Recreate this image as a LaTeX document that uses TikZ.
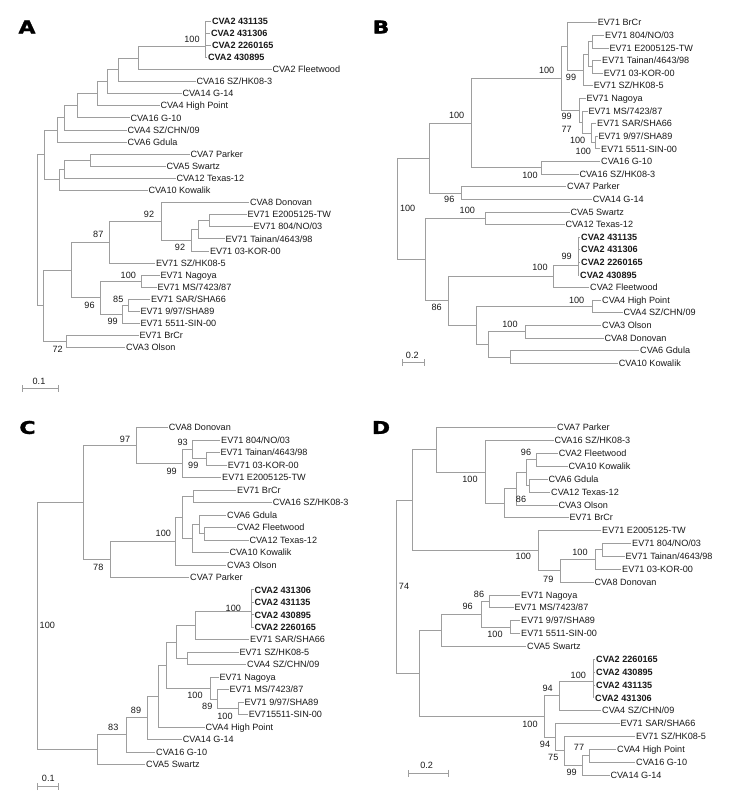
\documentclass[tikz,border=0pt]{standalone}
\usepackage{fontspec}
\setmainfont{Liberation Sans}
\newfontfamily\panelfont{DejaVu Sans}[BoldFeatures={FakeBold=1.6}]
\usetikzlibrary{arrows.meta}
\definecolor{linegray}{RGB}{158,158,158}
\definecolor{txt}{RGB}{25,25,25}
\tikzset{
  br/.style={draw=linegray, line width=0.75pt},
  leaf/.style={anchor=west, inner sep=1pt, outer sep=0pt, text height=6.5pt, text depth=0pt, font=\fontsize{9.1}{9.1}\selectfont, text=txt},
  bleaf/.style={leaf, font=\fontsize{9.1}{9.1}\selectfont\bfseries},
  bs/.style={inner sep=0pt, text height=6.5pt, text depth=0pt, font=\fontsize{9.1}{9.1}\selectfont, text=txt},
  plabel/.style={inner sep=0pt, font=\fontsize{17.5}{17.5}\selectfont\panelfont\bfseries, text=black},
  sbar/.style={draw=linegray, line width=0.75pt, {Bar[width=7pt]}-{Bar[width=7pt]}},
}
\begin{document}
\begin{tikzpicture}[x=1pt, y=-1pt]
\useasboundingbox[fill=white] (0,0) rectangle (750,805);

% ---------------- Panel letters ----------------
\node[plabel] (PA) at (27,27) {\scalebox{1.25}[1]{A}};
\node[plabel] (PB) at (381,27) {\scalebox{1.25}[1]{B}};
\node[plabel] (PC) at (27.5,427.5) {\scalebox{1.25}[1]{C}};
\node[plabel] (PD) at (381,427.5) {\scalebox{1.25}[1]{D}};

% ================= Panel A =================
\node[bleaf] (A0) at (211,21.0) {CVA2 431135};
\node[bleaf] (A1) at (210,33.1) {CVA2 431306};
\node[bleaf] (A2) at (211,45.2) {CVA2 2260165};
\node[bleaf] (A3) at (207,57.3) {CVA2 430895};
\node[leaf] (A4) at (271.5,69.4) {CVA2 Fleetwood};
\node[leaf] (A5) at (195.5,81.5) {CVA16 SZ/HK08-3};
\node[leaf] (A6) at (181.5,93.6) {CVA14 G-14};
\node[leaf] (A7) at (159.5,105.7) {CVA4 High Point};
\node[leaf] (A8) at (129.5,117.8) {CVA16 G-10};
\node[leaf] (A9) at (126.5,129.9) {CVA4 SZ/CHN/09};
\node[leaf] (A10) at (126.5,142.0) {CVA6 Gdula};
\node[leaf] (A11) at (189.5,154.1) {CVA7 Parker};
\node[leaf] (A12) at (165.5,166.2) {CVA5 Swartz};
\node[leaf] (A13) at (175.5,178.3) {CVA12 Texas-12};
\node[leaf] (A14) at (147.5,190.4) {CVA10 Kowalik};
\node[leaf] (A15) at (249,202.5) {CVA8 Donovan};
\node[leaf] (A16) at (246.5,214.6) {EV71 E2005125-TW};
\node[leaf] (A17) at (252.5,226.7) {EV71 804/NO/03};
\node[leaf] (A18) at (224.5,238.8) {EV71 Tainan/4643/98};
\node[leaf] (A19) at (209,250.9) {EV71 03-KOR-00};
\node[leaf] (A20) at (155,263.0) {EV71 SZ/HK08-5};
\node[leaf] (A21) at (159.5,275.1) {EV71 Nagoya};
\node[leaf] (A22) at (156.5,287.2) {EV71 MS/7423/87};
\node[leaf] (A23) at (150,299.3) {EV71 SAR/SHA66};
\node[leaf] (A24) at (139.5,311.4) {EV71 9/97/SHA89};
\node[leaf] (A25) at (139.5,323.5) {EV71 5511-SIN-00};
\node[leaf] (A26) at (138.5,335.6) {EV71 BrCr};
\node[leaf] (A27) at (125,347.7) {CVA3 Olson};

\coordinate (Ac) at (205.5,46.7);
\coordinate (Ap1) at (138,58.05);
\coordinate (Ap2) at (118,69.8);
\coordinate (Ap3) at (107,81.7);
\coordinate (Ap4) at (97,93.7);
\coordinate (Ap5) at (77,105.75);
\coordinate (Ap6) at (64,117.8);
\coordinate (Ap7) at (57.5,129.9);
\coordinate (Aq1) at (90,160.15);
\coordinate (Aq2) at (64,169.2);
\coordinate (Aq3) at (59,179.8);
\coordinate (Atop) at (44.3,154.85);
\coordinate (Ar1) at (209,220.65);
\coordinate (Ar2) at (198,229.7);
\coordinate (Ar3) at (191.7,240.3);
\coordinate (Ar4) at (161.7,221.4);
\coordinate (Ar5) at (109,242.2);
\coordinate (As1) at (141.7,281.15);
\coordinate (As2) at (128,305.35);
\coordinate (As3) at (122.7,314.4);
\coordinate (As4) at (100.7,297.8);
\coordinate (At) at (71.7,270);
\coordinate (Au) at (66.7,341.65);
\coordinate (Abot) at (43.3,305.8);
\coordinate (Aroot) at (37.7,230.3);

\path[br] (Ac) |- (A0.west) (Ac) |- (A1.west) (Ac) |- (A2.west) (Ac) |- (A3.west)
  (Ap1) |- (Ac) (Ap1) |- (A4.west)
  (Ap2) |- (Ap1) (Ap2) |- (A5.west)
  (Ap3) |- (Ap2) (Ap3) |- (A6.west)
  (Ap4) |- (Ap3) (Ap4) |- (A7.west)
  (Ap5) |- (Ap4) (Ap5) |- (A8.west)
  (Ap6) |- (Ap5) (Ap6) |- (A9.west)
  (Ap7) |- (Ap6) (Ap7) |- (A10.west)
  (Aq1) |- (A11.west) (Aq1) |- (A12.west)
  (Aq2) |- (Aq1) (Aq2) |- (A13.west)
  (Aq3) |- (Aq2) (Aq3) |- (A14.west)
  (Atop) |- (Ap7) (Atop) |- (Aq3)
  (Ar1) |- (A16.west) (Ar1) |- (A17.west)
  (Ar2) |- (Ar1) (Ar2) |- (A18.west)
  (Ar3) |- (Ar2) (Ar3) |- (A19.west)
  (Ar4) |- (A15.west) (Ar4) |- (Ar3)
  (Ar5) |- (Ar4) (Ar5) |- (A20.west)
  (As1) |- (A21.west) (As1) |- (A22.west)
  (As2) |- (A23.west) (As2) |- (A24.west)
  (As3) |- (As2) (As3) |- (A25.west)
  (As4) |- (As1) (As4) |- (As3)
  (At) |- (Ar5) (At) |- (As4)
  (Au) |- (A26.west) (Au) |- (A27.west)
  (Abot) |- (At) (Abot) |- (Au)
  (Aroot) |- (Atop) (Aroot) |- (Abot);

\node[bs] (Ab1) at (192,39) {100};
\node[bs] (Ab2) at (149,214.3) {92};
\node[bs] (Ab3) at (98.3,234.3) {87};
\node[bs] (Ab4) at (180,247.7) {92};
\node[bs] (Ab5) at (128.3,275) {100};
\node[bs] (Ab6) at (89.5,305.5) {96};
\node[bs] (Ab7) at (118.3,299.3) {85};
\node[bs] (Ab8) at (112.7,321.7) {99};
\node[bs] (Ab9) at (57.7,349.3) {72};

\coordinate (Asa) at (21.7,388.3);
\coordinate (Asb) at (59,388.3);
\draw[sbar] (Asa) -- (Asb);
\node[bs] (Asl) at (39,381.5) {0.1};

% ================= Panel B =================
\node[leaf] (B0) at (596.8,22.7) {EV71 BrCr};
\node[leaf] (B1) at (604.2,35.3) {EV71 804/NO/03};
\node[leaf] (B2) at (608.5,47.9) {EV71 E2005125-TW};
\node[leaf] (B3) at (601.2,60.5) {EV71 Tainan/4643/98};
\node[leaf] (B4) at (602.8,73.1) {EV71 03-KOR-00};
\node[leaf] (B5) at (592.8,85.75) {EV71 SZ/HK08-5};
\node[leaf] (B6) at (585.5,98.4) {EV71 Nagoya};
\node[leaf] (B7) at (587.5,111.0) {EV71 MS/7423/87};
\node[leaf] (B8) at (596.2,123.6) {EV71 SAR/SHA66};
\node[leaf] (B9) at (597.5,136.2) {EV71 9/97/SHA89};
\node[leaf] (B10) at (600.2,148.8) {EV71 5511-SIN-00};
\node[leaf] (B11) at (600.2,161.4) {CVA16 G-10};
\node[leaf] (B12) at (578.5,174.0) {CVA16 SZ/HK08-3};
\node[leaf] (B13) at (566.2,186.6) {CVA7 Parker};
\node[leaf] (B14) at (591.8,199.2) {CVA14 G-14};
\node[leaf] (B15) at (569.5,211.9) {CVA5 Swartz};
\node[leaf] (B16) at (564.5,224.5) {CVA12 Texas-12};
\node[bleaf] (B17) at (580.2,237.1) {CVA2 431135};
\node[bleaf] (B18) at (580.2,249.7) {CVA2 431306};
\node[bleaf] (B19) at (580.2,262.3) {CVA2 2260165};
\node[bleaf] (B20) at (579.2,274.9) {CVA2 430895};
\node[leaf] (B21) at (589.2,287.5) {CVA2 Fleetwood};
\node[leaf] (B22) at (601.2,300.1) {CVA4 High Point};
\node[leaf] (B23) at (622.5,312.7) {CVA4 SZ/CHN/09};
\node[leaf] (B24) at (601.2,325.3) {CVA3 Olson};
\node[leaf] (B25) at (603.5,338.0) {CVA8 Donovan};
\node[leaf] (B26) at (639.2,350.6) {CVA6 Gdula};
\node[leaf] (B27) at (617.8,363.2) {CVA10 Kowalik};

\coordinate (Bp1) at (592.5,41.6);
\coordinate (Bp2) at (592.5,66.8);
\coordinate (Bp3) at (588,54.2);
\coordinate (Bp4) at (583.3,70);
\coordinate (Bp5) at (567.7,46.35);
\coordinate (Bq1) at (595,142.5);
\coordinate (Bq2) at (591.7,133.05);
\coordinate (Bq3) at (582.3,122);
\coordinate (Bq4) at (579,110.2);
\coordinate (Bp6) at (561.7,78.3);
\coordinate (Br1) at (541.7,167.7);
\coordinate (Br2) at (471.7,123);
\coordinate (Br3) at (461,192.9);
\coordinate (Br4) at (429.3,157.95);
\coordinate (Bs1) at (485.7,218.2);
\coordinate (Bc) at (578.3,265);
\coordinate (Bs2) at (553.3,276.25);
\coordinate (Bs3) at (592.3,306.4);
\coordinate (Bs4) at (525.7,331.65);
\coordinate (Bs5) at (510.7,356.9);
\coordinate (Bs6) at (488.3,344.3);
\coordinate (Bs7) at (476.7,325.35);
\coordinate (Bs8) at (448.3,300.8);
\coordinate (Bs9) at (425,259.5);
\coordinate (Broot) at (397.3,208.7);

\path[br] (Bp1) |- (B1.west) (Bp1) |- (B2.west)
  (Bp2) |- (B3.west) (Bp2) |- (B4.west)
  (Bp3) |- (Bp1) (Bp3) |- (Bp2)
  (Bp4) |- (Bp3) (Bp4) |- (B5.west)
  (Bp5) |- (B0.west) (Bp5) |- (Bp4)
  (Bq1) |- (B9.west) (Bq1) |- (B10.west)
  (Bq2) |- (B8.west) (Bq2) |- (Bq1)
  (Bq3) |- (B7.west) (Bq3) |- (Bq2)
  (Bq4) |- (B6.west) (Bq4) |- (Bq3)
  (Bp6) |- (Bp5) (Bp6) |- (Bq4)
  (Br1) |- (B11.west) (Br1) |- (B12.west)
  (Br2) |- (Bp6) (Br2) |- (Br1)
  (Br3) |- (B13.west) (Br3) |- (B14.west)
  (Br4) |- (Br2) (Br4) |- (Br3)
  (Bs1) |- (B15.west) (Bs1) |- (B16.west)
  (Bc) |- (B17.west) (Bc) |- (B18.west) (Bc) |- (B19.west) (Bc) |- (B20.west)
  (Bs2) |- (Bc) (Bs2) |- (B21.west)
  (Bs3) |- (B22.west) (Bs3) |- (B23.west)
  (Bs4) |- (B24.west) (Bs4) |- (B25.west)
  (Bs5) |- (B26.west) (Bs5) |- (B27.west)
  (Bs6) |- (Bs4) (Bs6) |- (Bs5)
  (Bs7) |- (Bs3) (Bs7) |- (Bs6)
  (Bs8) |- (Bs2) (Bs8) |- (Bs7)
  (Bs9) |- (Bs1) (Bs9) |- (Bs8)
  (Broot) |- (Br4) (Broot) |- (Bs9);

\node[bs] (Bb1) at (546.7,70) {100};
\node[bs] (Bb2) at (571,77.3) {99};
\node[bs] (Bb3) at (456.7,115) {100};
\node[bs] (Bb4) at (566.7,116.7) {99};
\node[bs] (Bb5) at (566.7,129.3) {77};
\node[bs] (Bb6) at (577.7,140.7) {100};
\node[bs] (Bb7) at (583.3,151.7) {100};
\node[bs] (Bb8) at (530,175) {100};
\node[bs] (Bb9) at (449.3,199.3) {96};
\node[bs] (Bb10) at (407.7,208.3) {100};
\node[bs] (Bb11) at (467.3,210.7) {100};
\node[bs] (Bb12) at (566.7,256) {99};
\node[bs] (Bb13) at (540,267.7) {100};
\node[bs] (Bb14) at (436.7,307.7) {86};
\node[bs] (Bb15) at (576.7,300) {100};
\node[bs] (Bb16) at (510,324) {100};

\coordinate (Bsa) at (401.7,362.7);
\coordinate (Bsb) at (425,362.7);
\draw[sbar] (Bsa) -- (Bsb);
\node[bs] (Bsl) at (412.3,355.5) {0.2};

% ================= Panel C =================
\node[leaf] (C0) at (167.8,427.7) {CVA8 Donovan};
\node[leaf] (C1) at (220.2,440.2) {EV71 804/NO/03};
\node[leaf] (C2) at (219.5,452.6) {EV71 Tainan/4643/98};
\node[leaf] (C3) at (226.8,465.1) {EV71 03-KOR-00};
\node[leaf] (C4) at (221.2,477.6) {EV71 E2005125-TW};
\node[leaf] (C5) at (236.2,490.1) {EV71 BrCr};
\node[leaf] (C6) at (271.8,502.5) {CVA16 SZ/HK08-3};
\node[leaf] (C7) at (226.2,515.0) {CVA6 Gdula};
\node[leaf] (C8) at (235.8,527.5) {CVA2 Fleetwood};
\node[leaf] (C9) at (248.5,539.9) {CVA12 Texas-12};
\node[leaf] (C10) at (228.5,552.4) {CVA10 Kowalik};
\node[leaf] (C11) at (226.2,564.9) {CVA3 Olson};
\node[leaf] (C12) at (189.2,577.3) {CVA7 Parker};
\node[bleaf] (C13) at (253.5,589.8) {CVA2 431306};
\node[bleaf] (C14) at (253.5,602.3) {CVA2 431135};
\node[bleaf] (C15) at (253.5,614.8) {CVA2 430895};
\node[bleaf] (C16) at (253.5,627.2) {CVA2 2260165};
\node[leaf] (C17) at (249.2,639.7) {EV71 SAR/SHA66};
\node[leaf] (C18) at (238.5,652.2) {EV71 SZ/HK08-5};
\node[leaf] (C19) at (246.2,664.6) {CVA4 SZ/CHN/09};
\node[leaf] (C20) at (218.5,677.1) {EV71 Nagoya};
\node[leaf] (C21) at (228.5,689.6) {EV71 MS/7423/87};
\node[leaf] (C22) at (243.5,702.0) {EV71 9/97/SHA89};
\node[leaf] (C23) at (247.8,714.5) {EV715511-SIN-00};
\node[leaf] (C24) at (204.5,727.0) {CVA4 High Point};
\node[leaf] (C25) at (181.8,739.5) {CVA14 G-14};
\node[leaf] (C26) at (155.2,751.9) {CVA16 G-10};
\node[leaf] (C27) at (145.2,764.4) {CVA5 Swartz};

\coordinate (Cp1) at (206,458.85);
\coordinate (Cp2) at (192.7,449.5);
\coordinate (Cp3) at (182.7,463.55);
\coordinate (Cp4) at (136.7,445.6);
\coordinate (Cq1) at (193.3,496.3);
\coordinate (Cq2) at (204,533.7);
\coordinate (Cq3) at (199.3,524.35);
\coordinate (Cq4) at (192.7,538.4);
\coordinate (Cq5) at (182.7,517.35);
\coordinate (Cq6) at (175.7,541.1);
\coordinate (Cq7) at (110,559.2);
\coordinate (Ctop) at (83.3,502.4);
\coordinate (Cc) at (251.5,611);
\coordinate (Cr1) at (195.7,625.35);
\coordinate (Cr2) at (187.7,658.4);
\coordinate (Cr3) at (176,641.9);
\coordinate (Cs1) at (238.3,708.25);
\coordinate (Cs2) at (217.3,698.9);
\coordinate (Cs3) at (210.7,688);
\coordinate (Cr4) at (166.7,664.95);
\coordinate (Cr5) at (158.3,696);
\coordinate (Cr6) at (147.7,717.75);
\coordinate (Cr7) at (126.7,734.8);
\coordinate (Cbot) at (97.7,749.6);
\coordinate (Croot) at (37.5,626);

\path[br] (Cp1) |- (C2.west) (Cp1) |- (C3.west)
  (Cp2) |- (C1.west) (Cp2) |- (Cp1)
  (Cp3) |- (Cp2) (Cp3) |- (C4.west)
  (Cp4) |- (C0.west) (Cp4) |- (Cp3)
  (Cq1) |- (C5.west) (Cq1) |- (C6.west)
  (Cq2) |- (C8.west) (Cq2) |- (C9.west)
  (Cq3) |- (C7.west) (Cq3) |- (Cq2)
  (Cq4) |- (Cq3) (Cq4) |- (C10.west)
  (Cq5) |- (Cq1) (Cq5) |- (Cq4)
  (Cq6) |- (Cq5) (Cq6) |- (C11.west)
  (Cq7) |- (Cq6) (Cq7) |- (C12.west)
  (Ctop) |- (Cp4) (Ctop) |- (Cq7)
  (Cc) |- (C13.west) (Cc) |- (C14.west) (Cc) |- (C15.west) (Cc) |- (C16.west)
  (Cr1) |- (Cc) (Cr1) |- (C17.west)
  (Cr2) |- (C18.west) (Cr2) |- (C19.west)
  (Cr3) |- (Cr1) (Cr3) |- (Cr2)
  (Cs1) |- (C22.west) (Cs1) |- (C23.west)
  (Cs2) |- (C21.west) (Cs2) |- (Cs1)
  (Cs3) |- (C20.west) (Cs3) |- (Cs2)
  (Cr4) |- (Cr3) (Cr4) |- (Cs3)
  (Cr5) |- (Cr4) (Cr5) |- (C24.west)
  (Cr6) |- (Cr5) (Cr6) |- (C25.west)
  (Cr7) |- (Cr6) (Cr7) |- (C26.west)
  (Cbot) |- (Cr7) (Cbot) |- (C27.west)
  (Croot) |- (Ctop) (Croot) |- (Cbot);

\node[bs] (Cb1) at (125,439) {97};
\node[bs] (Cb2) at (182.7,442.7) {93};
\node[bs] (Cb3) at (193.3,465.7) {99};
\node[bs] (Cb4) at (171.7,471) {99};
\node[bs] (Cb5) at (163.3,533.3) {100};
\node[bs] (Cb6) at (98.3,567.7) {78};
\node[bs] (Cb7) at (233.3,608.3) {100};
\node[bs] (Cb8) at (47.3,625.7) {100};
\node[bs] (Cb9) at (195,695) {100};
\node[bs] (Cb10) at (207.3,706) {89};
\node[bs] (Cb11) at (136,710.7) {89};
\node[bs] (Cb12) at (225,716) {100};
\node[bs] (Cb13) at (113.3,727.3) {83};

\coordinate (Csa) at (37.3,786.7);
\coordinate (Csb) at (59,786.7);
\draw[sbar] (Csa) -- (Csb);
\node[bs] (Csl) at (48.3,778.5) {0.1};

% ================= Panel D =================
\node[leaf] (D0) at (556.2,427.7) {CVA7 Parker};
\node[leaf] (D1) at (553.5,440.6) {CVA16 SZ/HK08-3};
\node[leaf] (D2) at (557.8,453.4) {CVA2 Fleetwood};
\node[leaf] (D3) at (567.5,466.3) {CVA10 Kowalik};
\node[leaf] (D4) at (547.5,479.1) {CVA6 Gdula};
\node[leaf] (D5) at (550.2,492.0) {CVA12 Texas-12};
\node[leaf] (D6) at (557.5,504.9) {CVA3 Olson};
\node[leaf] (D7) at (568.5,517.7) {EV71 BrCr};
\node[leaf] (D8) at (601.2,530.6) {EV71 E2005125-TW};
\node[leaf] (D9) at (631.2,543.4) {EV71 804/NO/03};
\node[leaf] (D10) at (624.5,556.3) {EV71 Tainan/4643/98};
\node[leaf] (D11) at (621.2,569.2) {EV71 03-KOR-00};
\node[leaf] (D12) at (593.5,582.0) {CVA8 Donovan};
\node[leaf] (D13) at (520.2,594.9) {EV71 Nagoya};
\node[leaf] (D14) at (513.5,607.7) {EV71 MS/7423/87};
\node[leaf] (D15) at (520.2,620.6) {EV71 9/97/SHA89};
\node[leaf] (D16) at (520.2,633.5) {EV71 5511-SIN-00};
\node[leaf] (D17) at (526.2,646.3) {CVA5 Swartz};
\node[bleaf] (D18) at (595.2,659.2) {CVA2 2260165};
\node[bleaf] (D19) at (595.2,672.0) {CVA2 430895};
\node[bleaf] (D20) at (595.2,684.9) {CVA2 431135};
\node[bleaf] (D21) at (594.2,697.8) {CVA2 431306};
\node[leaf] (D22) at (601.2,710.6) {CVA4 SZ/CHN/09};
\node[leaf] (D23) at (619.5,723.5) {EV71 SAR/SHA66};
\node[leaf] (D24) at (635.2,736.3) {EV71 SZ/HK08-5};
\node[leaf] (D25) at (616.2,749.2) {CVA4 High Point};
\node[leaf] (D26) at (635.2,762.1) {CVA16 G-10};
\node[leaf] (D27) at (609.5,774.9) {CVA14 G-14};

\coordinate (Dp1) at (536,459.85);
\coordinate (Dp2) at (529.3,485.55);
\coordinate (Dp3) at (526.7,472.7);
\coordinate (Dp4) at (516,488.8);
\coordinate (Dp5) at (504.3,503.25);
\coordinate (Dp6) at (485.5,471.9);
\coordinate (Dp7) at (436.7,449.8);
\coordinate (Dq1) at (602.3,549.85);
\coordinate (Dq2) at (595.7,559.5);
\coordinate (Dq3) at (560.7,570.75);
\coordinate (Dq4) at (538.3,550.7);
\coordinate (Dtop) at (412.3,500.25);
\coordinate (Dr1) at (489.3,601.3);
\coordinate (Dr2) at (510,627.05);
\coordinate (Dr3) at (481.7,614.2);
\coordinate (Dr4) at (441,630.25);
\coordinate (Dc) at (593.3,681);
\coordinate (Ds1) at (559.3,695.8);
\coordinate (Ds2) at (589,755.65);
\coordinate (Ds3) at (582.3,765.3);
\coordinate (Ds4) at (564,750.8);
\coordinate (Ds5) at (555,737.15);
\coordinate (Ds6) at (544.3,716.5);
\coordinate (Dbot) at (419,673.4);
\coordinate (Droot) at (396.7,586.8);

\path[br] (Dp1) |- (D2.west) (Dp1) |- (D3.west)
  (Dp2) |- (D4.west) (Dp2) |- (D5.west)
  (Dp3) |- (Dp1) (Dp3) |- (Dp2)
  (Dp4) |- (Dp3) (Dp4) |- (D6.west)
  (Dp5) |- (Dp4) (Dp5) |- (D7.west)
  (Dp6) |- (D1.west) (Dp6) |- (Dp5)
  (Dp7) |- (D0.west) (Dp7) |- (Dp6)
  (Dq1) |- (D9.west) (Dq1) |- (D10.west)
  (Dq2) |- (Dq1) (Dq2) |- (D11.west)
  (Dq3) |- (Dq2) (Dq3) |- (D12.west)
  (Dq4) |- (D8.west) (Dq4) |- (Dq3)
  (Dtop) |- (Dp7) (Dtop) |- (Dq4)
  (Dr1) |- (D13.west) (Dr1) |- (D14.west)
  (Dr2) |- (D15.west) (Dr2) |- (D16.west)
  (Dr3) |- (Dr1) (Dr3) |- (Dr2)
  (Dr4) |- (Dr3) (Dr4) |- (D17.west)
  (Dc) |- (D18.west) (Dc) |- (D19.west) (Dc) |- (D20.west) (Dc) |- (D21.west)
  (Ds1) |- (Dc) (Ds1) |- (D22.west)
  (Ds2) |- (D25.west) (Ds2) |- (D26.west)
  (Ds3) |- (Ds2) (Ds3) |- (D27.west)
  (Ds4) |- (D24.west) (Ds4) |- (Ds3)
  (Ds5) |- (D23.west) (Ds5) |- (Ds4)
  (Ds6) |- (Ds1) (Ds6) |- (Ds5)
  (Dbot) |- (Dr4) (Dbot) |- (Ds6)
  (Droot) |- (Dtop) (Droot) |- (Dbot);

\node[bs] (Db1) at (526,452.3) {96};
\node[bs] (Db2) at (470,479.5) {100};
\node[bs] (Db3) at (521,499) {86};
\node[bs] (Db4) at (580,552.3) {100};
\node[bs] (Db5) at (523.3,556) {100};
\node[bs] (Db6) at (548.3,579) {79};
\node[bs] (Db7) at (404,586.7) {74};
\node[bs] (Db8) at (479,594) {86};
\node[bs] (Db9) at (467.7,606.5) {96};
\node[bs] (Db10) at (495,634) {100};
\node[bs] (Db11) at (578.3,675.7) {100};
\node[bs] (Db12) at (547.7,688.3) {94};
\node[bs] (Db13) at (530,724) {100};
\node[bs] (Db14) at (545,744) {94};
\node[bs] (Db15) at (579,747.7) {77};
\node[bs] (Db16) at (553.3,757.7) {75};
\node[bs] (Db17) at (571.7,772.7) {99};

\coordinate (Dsa) at (408.3,773.3);
\coordinate (Dsb) at (448.3,773.3);
\draw[sbar] (Dsa) -- (Dsb);
\node[bs] (Dsl) at (426.7,765.5) {0.2};
\end{tikzpicture}
\end{document}
